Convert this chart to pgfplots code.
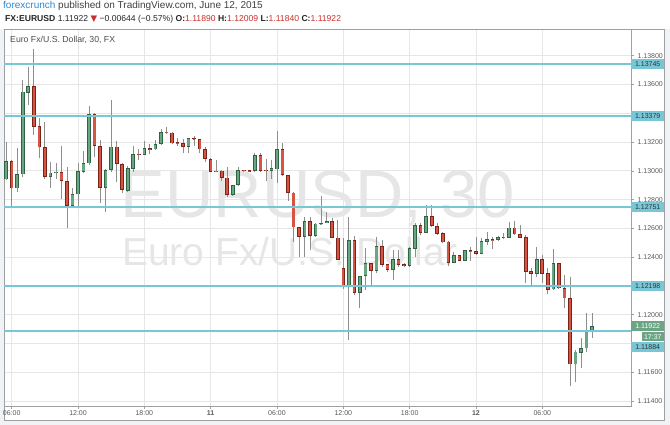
\documentclass[border=0pt]{standalone}
\usepackage{fontspec}
\setmainfont{Liberation Sans}
\newfontfamily\dejavu{DejaVu Sans}
\usepackage{pgfplots}
\pgfplotsset{compat=1.18}
\usepackage{pgfplotstable}
\definecolor{upfill}{HTML}{6BA583}
\definecolor{upline}{HTML}{2E6444}
\definecolor{dnfill}{HTML}{D75442}
\definecolor{dnline}{HTML}{7A2418}
\definecolor{wick}{HTML}{8E8E8E}
\definecolor{lvl}{HTML}{78C6D6}
\definecolor{gridc}{HTML}{E6E6E6}
\definecolor{wm}{HTML}{E6E6E6}
\definecolor{bg}{HTML}{F0F3F6}
\definecolor{framec}{HTML}{A0A0A0}
\definecolor{lbl}{HTML}{5A5A5A}
\definecolor{hdrblue}{HTML}{2B8AD6}
\definecolor{hdrred}{HTML}{C8312B}

\pgfplotstableread{
i o h l c
0 1.12941 1.13202 1.12936 1.13068
2 1.12879 1.13157 1.12855 1.12978
3 1.12976 1.13631 1.12959 1.13550
4 1.13543 1.13724 1.13457 1.13590
8 1.12957 1.13063 1.12879 1.12987
9 1.12985 1.13057 1.12941 1.12992
12 1.12758 1.12881 1.12742 1.12839
13 1.12837 1.13052 1.12740 1.12999
14 1.12994 1.13140 1.12983 1.13052
15 1.13052 1.13451 1.13041 1.13395
18 1.12883 1.13010 1.12716 1.13006
19 1.13006 1.13492 1.12994 1.13168
22 1.12863 1.13034 1.12853 1.13018
23 1.13013 1.13173 1.12994 1.13115
25 1.13110 1.13209 1.13108 1.13157
27 1.13150 1.13214 1.13145 1.13186
28 1.13186 1.13291 1.13180 1.13270
33 1.13168 1.13230 1.13122 1.13226
38 1.12994 1.13075 1.12990 1.13001
41 1.12832 1.12905 1.12825 1.12902
42 1.12902 1.13029 1.12895 1.13006
45 1.12999 1.13122 1.12990 1.13110
48 1.12999 1.13075 1.12943 1.13018
49 1.13011 1.13279 1.12913 1.13152
54 1.12542 1.12677 1.12403 1.12651
56 1.12547 1.12640 1.12542 1.12633
57 1.12633 1.12825 1.12624 1.12637
58 1.12635 1.12716 1.12635 1.12651
62 1.12191 1.12677 1.11824 1.12519
64 1.12153 1.12272 1.12045 1.12269
65 1.12269 1.12462 1.12172 1.12357
67 1.12304 1.12542 1.12288 1.12478
70 1.12311 1.12450 1.12241 1.12387
73 1.12339 1.12469 1.12334 1.12462
74 1.12459 1.12640 1.12403 1.12624
76 1.12570 1.12763 1.12566 1.12686
81 1.12362 1.12438 1.12357 1.12413
83 1.12375 1.12450 1.12373 1.12448
86 1.12422 1.12531 1.12420 1.12512
87 1.12508 1.12577 1.12485 1.12526
89 1.12519 1.12547 1.12514 1.12540
91 1.12535 1.12647 1.12531 1.12605
96 1.12283 1.12469 1.12260 1.12385
99 1.12177 1.12455 1.12172 1.12357
103 1.11656 1.11755 1.11535 1.11743
104 1.11736 1.11836 1.11628 1.11767
105 1.11767 1.12014 1.11743 1.11889
106 1.11890 1.12009 1.11840 1.11922
}\uptab

\pgfplotstableread{
i o h l c
1 1.13068 1.13075 1.12751 1.12879
5 1.13590 1.13845 1.13249 1.13307
6 1.13312 1.13365 1.13087 1.13164
7 1.13164 1.13341 1.12941 1.12959
10 1.12992 1.13175 1.12802 1.12929
11 1.12929 1.13029 1.12601 1.12758
16 1.13395 1.13400 1.13098 1.13173
17 1.13173 1.13214 1.12779 1.12883
20 1.13168 1.13209 1.12924 1.13048
21 1.13048 1.13052 1.12844 1.12867
24 1.13117 1.13150 1.13075 1.13112
26 1.13157 1.13186 1.13115 1.13145
29 1.13272 1.13307 1.13256 1.13265
30 1.13265 1.13270 1.13188 1.13191
31 1.13198 1.13226 1.13173 1.13186
32 1.13191 1.13219 1.13122 1.13168
34 1.13226 1.13242 1.13173 1.13219
35 1.13219 1.13222 1.13122 1.13150
36 1.13150 1.13168 1.13063 1.13082
37 1.13082 1.13087 1.12992 1.12994
39 1.13001 1.13004 1.12931 1.12952
40 1.12952 1.13029 1.12820 1.12832
43 1.13004 1.13009 1.12995 1.12999
44 1.13004 1.13006 1.12992 1.12994
46 1.13110 1.13122 1.12990 1.13001
47 1.13004 1.13080 1.12931 1.12999
50 1.13152 1.13196 1.12964 1.12971
51 1.12971 1.12974 1.12792 1.12848
52 1.12848 1.12851 1.12508 1.12608
53 1.12608 1.12611 1.12403 1.12542
55 1.12651 1.12677 1.12450 1.12547
59 1.12651 1.12670 1.12531 1.12535
60 1.12535 1.12658 1.12378 1.12380
61 1.12323 1.12531 1.12177 1.12191
63 1.12519 1.12547 1.12137 1.12153
66 1.12357 1.12360 1.12207 1.12304
68 1.12478 1.12519 1.12334 1.12346
69 1.12353 1.12356 1.12299 1.12311
71 1.12387 1.12450 1.12334 1.12346
72 1.12353 1.12357 1.12330 1.12339
75 1.12624 1.12635 1.12554 1.12570
77 1.12686 1.12763 1.12612 1.12617
78 1.12617 1.12635 1.12554 1.12561
79 1.12566 1.12577 1.12496 1.12503
80 1.12508 1.12511 1.12339 1.12362
82 1.12413 1.12415 1.12373 1.12375
84 1.12450 1.12473 1.12375 1.12438
85 1.12443 1.12542 1.12415 1.12422
88 1.12526 1.12542 1.12455 1.12514
90 1.12540 1.12566 1.12524 1.12535
92 1.12605 1.12654 1.12554 1.12559
93 1.12561 1.12624 1.12531 1.12535
94 1.12538 1.12554 1.12223 1.12299
95 1.12304 1.12323 1.12207 1.12283
97 1.12385 1.12415 1.12218 1.12283
98 1.12288 1.12323 1.12144 1.12172
100 1.12357 1.12360 1.12177 1.12184
101 1.12184 1.12276 1.12045 1.12114
102 1.12114 1.12264 1.11505 1.11656
}\dntab

\pgfplotsset{
  wickstyle/.style={draw=none, mark=none, forget plot,
    error bars/.cd, y dir=plus, y explicit, error mark=none,
    error bar style={draw=wick, line width=0.8pt}, /pgfplots/.cd},
  bodystyle/.style 2 args={draw=none, mark=none, forget plot,
    error bars/.cd, y dir=plus, y explicit, error mark=none,
    error bar style={draw=#1, line width=#2}, /pgfplots/.cd},
  innerstyle/.style={draw=none, mark=none, forget plot,
    error bars/.cd, y dir=plus, y explicit, error mark=none,
    error bar style={draw=#1, line width=2.2pt, shorten <=0.6pt, shorten >=0.6pt}, /pgfplots/.cd},
  lvlline/.style={draw=lvl, line width=2pt, mark=none, forget plot},
}
\tikzset{
  lvlbox/.style={anchor=west, fill=lvl, text=black!80, inner sep=0pt,
    minimum height=10pt, minimum width=33pt, font=\fontsize{7}{8}\selectfont},
}

\begin{document}
\begin{tikzpicture}[x=1pt,y=1pt]
\useasboundingbox (0,0) rectangle (670,425);
\fill[bg] (0,0) rectangle (670,425);
\fill[white] (0,396) rectangle (670,425);
\fill[white] (4,5) rectangle (664,396);
\draw[framec, line width=0.8pt] (4,5) rectangle (664,396);

% watermark
\node[anchor=base, inner sep=0, text=wm, font=\fontsize{67}{67}\selectfont] at (318,207) {EURUSD, 30};
\node[anchor=base, inner sep=0, text=wm, font=\fontsize{39}{39}\selectfont] at (290,159) {Euro Fx/U.S. Dollar};

\begin{axis}[
  at={(4.5pt,19pt)}, anchor=south west, scale only axis,
  width=626.5pt, height=376.5pt,
  xmin=-0.3, xmax=113.05, ymin=1.11366, ymax=1.13982,
  axis line style={framec, line width=0.8pt},
  xtick={1,13,25,37,49,61,73,85,97},
  xticklabels={06:00,12:00,18:00,\textbf{11},06:00,12:00,18:00,\textbf{12},06:00},
  ytick={1.114,1.116,1.118,1.120,1.122,1.124,1.126,1.128,1.130,1.132,1.134,1.136,1.138},
  yticklabels={1.11400,1.11600,,1.12000,,1.12400,1.12600,1.12800,1.13000,1.13200,,1.13600,1.13800},
  yticklabel pos=right, ytick pos=right, xtick pos=bottom,
  x tick label style={yshift=1.5pt},
  grid=major, major grid style={gridc, line width=0.7pt},
  tick style={framec, line width=0.6pt}, tick align=outside, major tick length=3pt,
  ticklabel style={font=\fontsize{7}{8}\selectfont, text=lbl},
  clip=false,
]
% wicks
\addplot[wickstyle] table[x=i, y=l, y error expr=\thisrow{h}-\thisrow{l}] {\uptab};
\addplot[wickstyle] table[x=i, y=l, y error expr=\thisrow{h}-\thisrow{l}] {\dntab};
% bodies
\addplot[bodystyle={upline}{3.6pt}] table[x=i, y=o, y error expr=\thisrow{c}-\thisrow{o}] {\uptab};
\addplot[innerstyle=upfill] table[x=i, y=o, y error expr=\thisrow{c}-\thisrow{o}] {\uptab};
\addplot[bodystyle={dnline}{3.6pt}] table[x=i, y=c, y error expr=\thisrow{o}-\thisrow{c}] {\dntab};
\addplot[innerstyle=dnfill] table[x=i, y=c, y error expr=\thisrow{o}-\thisrow{c}] {\dntab};
% level lines
\addplot[lvlline] coordinates {(-0.3,1.13745) (113.05,1.13745)};
\addplot[lvlline] coordinates {(-0.3,1.13379) (113.05,1.13379)};
\addplot[lvlline] coordinates {(-0.3,1.12751) (113.05,1.12751)};
\addplot[lvlline] coordinates {(-0.3,1.12198) (113.05,1.12198)};
\addplot[lvlline] coordinates {(-0.3,1.11884) (113.05,1.11884)};
% price labels
\node[lvlbox] at (axis cs:113.05,1.13745) {1.13745};
\node[lvlbox] at (axis cs:113.05,1.13379) {1.13379};
\node[lvlbox] at (axis cs:113.05,1.12751) {1.12751};
\node[lvlbox] at (axis cs:113.05,1.12198) {1.12198};
\node[lvlbox] at (axis cs:113.05,1.11778) {1.11884};
\node[lvlbox, fill=upfill, text=white] at (axis cs:113.05,1.11922) {1.11922};
\node[anchor=east, fill=upfill, text=white, inner sep=0pt, minimum height=9pt, minimum width=22pt, font=\fontsize{7}{8}\selectfont] at ([xshift=33pt]axis cs:113.05,1.11847) {17:37};
\end{axis}

% header
\node[anchor=base west, inner sep=0] at (3,416) {\fontsize{10}{11}\selectfont\textcolor{hdrblue}{forexcrunch} \textcolor{black!75}{published on TradingView.com, June 12, 2015}};
\node[anchor=base west, inner sep=0, text=black!85] at (5,403.3) {\fontsize{8.6}{10}\selectfont\textbf{FX:EURUSD} 1.11922 {\dejavu\textcolor{hdrred}{▼}} −0.00644 (−0.57\%) \textbf{O:}\textcolor{hdrred}{1.11890} \textbf{H:}\textcolor{hdrred}{1.12009} \textbf{L:}\textcolor{hdrred}{1.11840} \textbf{C:}\textcolor{hdrred}{1.11922}};
\node[anchor=base west, inner sep=0, text=black!70, font=\fontsize{8.7}{10}\selectfont] at (10,382.5) {Euro Fx/U.S. Dollar, 30, FX};
\end{tikzpicture}
\end{document}
